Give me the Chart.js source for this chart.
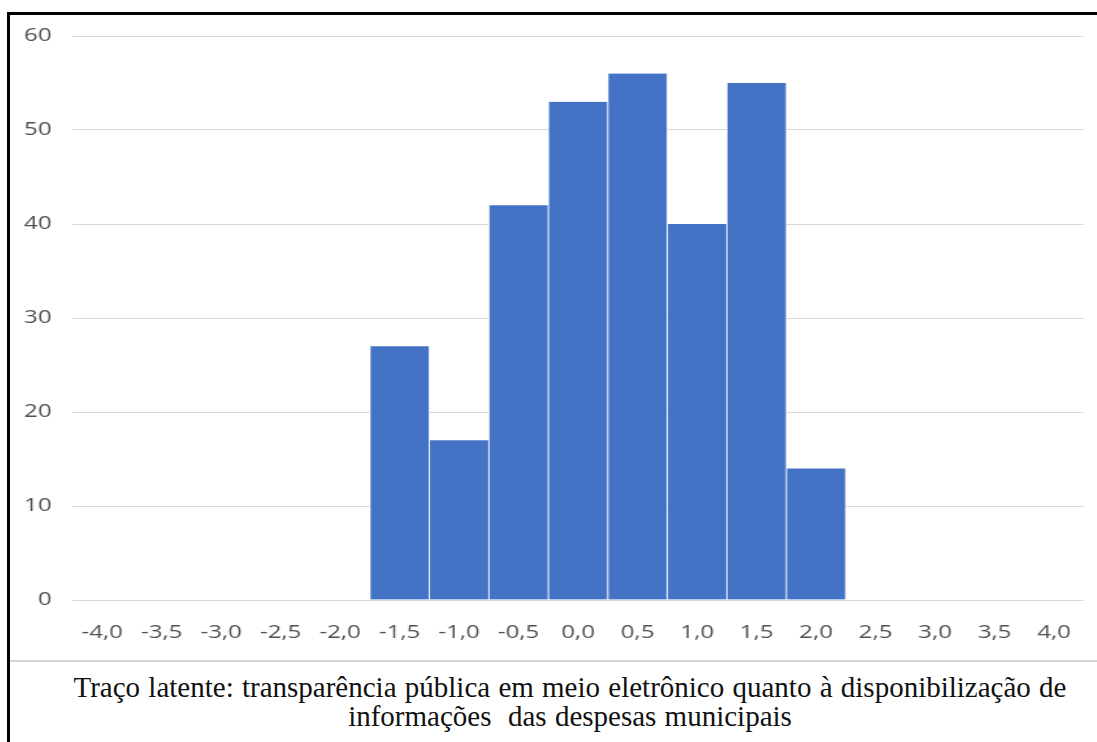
<!DOCTYPE html>
<html>
<head>
<meta charset="utf-8">
<script src="https://cdn.jsdelivr.net/npm/chart.js@4.4.1/dist/chart.umd.min.js"></script>
<style>
  body { margin: 0; background: #fff; width: 1097px; height: 742px; overflow: hidden; position: relative; }
  #frame { position: absolute; left: 7px; top: 12px; width: 1100px; height: 740px; border-left: 3px solid #000; border-top: 3px solid #000; }
  /* the source chart image is stretched sideways, so the chart is drawn narrower and widened */
  #wrap { position: absolute; left: 10px; top: 15px; width: 836px; height: 645px; transform: scaleX(1.3); transform-origin: 0 0; }
  #sep { position: absolute; left: 10px; top: 660px; width: 1087px; height: 2px; background: #d6d6d6; }
  #caption { position: absolute; left: 70px; width: 1000px; top: 673px; text-align: center;
    font-family: "Liberation Serif", "Times New Roman", serif; font-size: 29px; line-height: 29px; word-spacing: 1px; color: #111; }
</style>
</head>
<body>
<div id="frame"></div>
<div id="wrap"><canvas id="mycanvas"></canvas></div>
<div id="sep"></div>
<div id="caption">Traço latente: transparência pública em meio eletrônico quanto à disponibilização de<br>informações&nbsp; das despesas municipais</div>
<script>
// histogram bins and counts
var bins = ["-4,0", "-3,5", "-3,0", "-2,5", "-2,0", "-1,5", "-1,0", "-0,5", "0,0", "0,5", "1,0", "1,5", "2,0", "2,5", "3,0", "3,5", "4,0"];
var counts = [0, 0, 0, 0, 0, 27, 17, 42, 53, 56, 40, 55, 14, 0, 0, 0, 0];
var yTicks = [0, 10, 20, 30, 40, 50, 60];

var ctx = document.getElementById("mycanvas");

var chart = new Chart(ctx, {
  type: 'bar',
  data: {
    labels: bins,
    datasets: [
      {
        label: "frequência",
        data: counts,
        backgroundColor: "#4472C4",
        borderColor: "#ffffff",
        borderWidth: { left: 0.8, right: 0.8, top: 0, bottom: 0 },
        borderSkipped: false,
        barPercentage: 1,
        categoryPercentage: 1
      }
    ]
  },
  options: {
    responsive: true,
    maintainAspectRatio: false,
    animation: { duration: 0 },
    layout: { padding: { top: 21, right: 10, left: 0, bottom: 0 } },
    plugins: { legend: { display: false }, tooltip: { enabled: false } },
    scales: {
      x: {
        grid: { display: false },
        border: { display: false },
        ticks: { color: "#505050", font: { family: "Open Sans", size: 18.5 }, padding: 14, maxRotation: 0, autoSkip: false },
        afterFit: function(s) { s.height = 60; }
      },
      y: {
        min: 0,
        max: 60,
        afterBuildTicks: function(s) { s.ticks = yTicks.map(function(v) { return { value: v }; }); },
        grid: { color: "#d9d9d9", lineWidth: 1, drawTicks: false },
        border: { display: false },
        ticks: { color: "#505050", font: { family: "Open Sans", size: 18.5 }, padding: 16 },
        afterFit: function(s) { s.width = 48; s.paddingTop = 0; s.paddingBottom = 0; }
      }
    }
  }
});
</script>
</body>
</html>
